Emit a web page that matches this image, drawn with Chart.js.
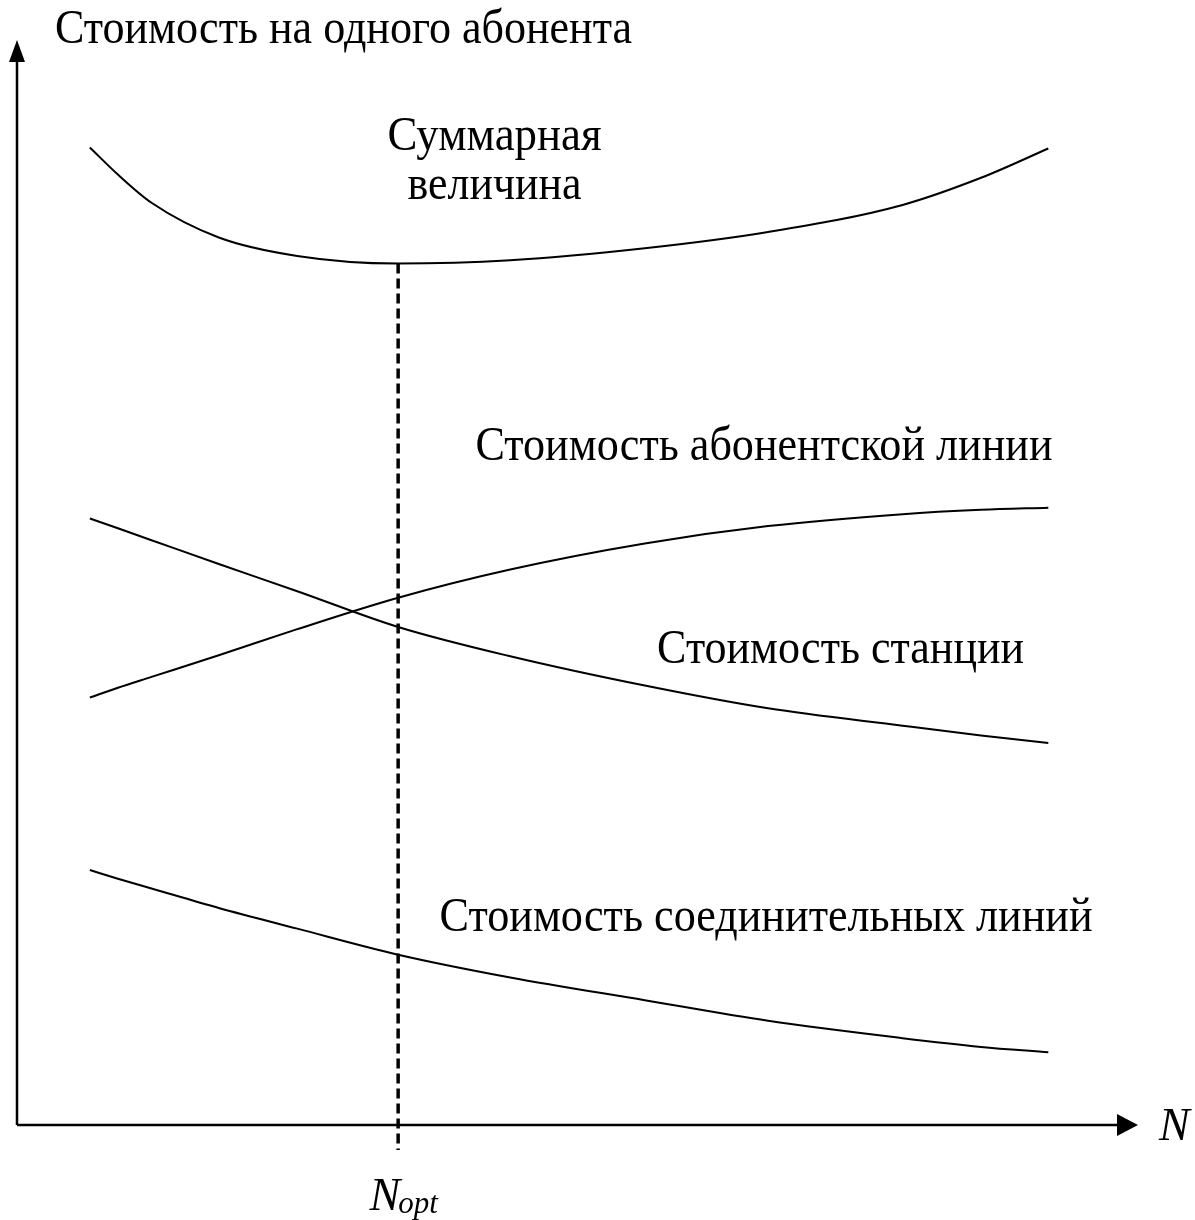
<!DOCTYPE html>
<html>
<head>
<meta charset="utf-8">
<script src="https://cdn.jsdelivr.net/npm/chart.js@4/dist/chart.umd.min.js"></script>
<style>
  body { margin: 0; background: #fff; }
  #wrap { width: 1195px; height: 1220px; position: relative; }
</style>
</head>
<body>
<div id="wrap"><canvas id="costChart"></canvas></div>
<script>
// N (number of subscribers), arbitrary units 0..100
const nValues = [6.5, 9, 12, 18, 25, 34, 44, 56, 67, 79, 86, 92];

// cost per subscriber, arbitrary units 0..100
const totalCost      = [90.1, 87.6, 85.0, 81.8, 80.1, 79.4, 79.7, 80.8, 82.3, 84.8, 87.3, 90.0];
const stationCost    = [55.9, 55.0, 53.9, 51.7, 49.2, 45.9, 43.2, 40.5, 38.4, 36.8, 35.9, 35.2];
const subscriberLine = [39.4, 40.3, 41.3, 43.3, 45.7, 48.6, 51.2, 53.6, 55.2, 56.3, 56.7, 56.9];
const trunkLines     = [23.5, 22.7, 21.8, 20.0, 18.1, 15.7, 13.6, 11.5, 9.6, 8.0, 7.2, 6.7];

// optimum point
const nOpt = 34;
const nOptLine = [79.4, -2.3];

const curveLabels = [
  { lines: ['Суммарная', 'величина'], x: 42.6, y: [89.9, 85.3], w: [214, 174] },
  { lines: ['Стоимость абонентской линии'], x: 40.9, y: [61.3], w: [577], left: true },
  { lines: ['Стоимость станции'], x: 57.1, y: [42.6], w: [367], left: true },
  { lines: ['Стоимость соединительных линий'], x: 37.7, y: [17.9], w: [653], left: true }
];

function toPoints(ys) {
  return ys.map(function (v, i) { return { x: nValues[i], y: v }; });
}

function curve(ys) {
  return {
    data: toPoints(ys),
    borderColor: '#000',
    borderWidth: 2,
    pointRadius: 0,
    cubicInterpolationMode: 'monotone',
    fill: false
  };
}

// draws text squeezed to a given width (the original font looks narrow)
function fitText(c, text, x, y, width, font, align) {
  c.save();
  c.font = font;
  const m = c.measureText(text).width;
  const k = width / m;
  let left = x;
  if (align === 'center') left = x - width / 2;
  c.translate(left, y);
  c.scale(k, 1);
  c.textAlign = 'left';
  c.textBaseline = 'alphabetic';
  c.fillText(text, 0, 0);
  c.restore();
}

const axesPlugin = {
  id: 'axesPlugin',
  afterDraw: function (chart) {
    const c = chart.ctx;
    const xs = chart.scales.x;
    const ys = chart.scales.y;
    const x0 = xs.getPixelForValue(0);
    const y0 = ys.getPixelForValue(0);
    const xEnd = chart.chartArea.right;
    const yEnd = chart.chartArea.top;
    const font = '48px "Liberation Serif"';

    c.save();
    c.strokeStyle = '#000';
    c.fillStyle = '#000';
    c.lineWidth = 2.5;

    // y axis
    c.beginPath();
    c.moveTo(x0, y0);
    c.lineTo(x0, yEnd + 18);
    c.stroke();
    c.beginPath();
    c.moveTo(x0, yEnd);
    c.lineTo(x0 - 8, yEnd + 22);
    c.lineTo(x0 + 8, yEnd + 22);
    c.closePath();
    c.fill();

    // x axis
    c.beginPath();
    c.moveTo(x0, y0);
    c.lineTo(xEnd - 18, y0);
    c.stroke();
    c.beginPath();
    c.moveTo(xEnd, y0);
    c.lineTo(xEnd - 21, y0 - 11);
    c.lineTo(xEnd - 21, y0 + 11);
    c.closePath();
    c.fill();

    // axis titles
    fitText(c, 'Стоимость на одного абонента', 55, 43, 577, font, 'left');
    c.font = 'italic 46px "Liberation Serif"';
    c.textAlign = 'left';
    c.textBaseline = 'alphabetic';
    c.fillText('N', 1159, y0 + 15);

    const nx = xs.getPixelForValue(nOpt);
    c.textAlign = 'right';
    c.fillText('N', nx + 2, 1210);
    c.font = 'italic 31px "Liberation Serif"';
    c.textAlign = 'left';
    c.fillText('opt', nx, 1213);

    // curve labels
    curveLabels.forEach(function (lb) {
      lb.lines.forEach(function (t, i) {
        const px = xs.getPixelForValue(lb.x);
        const py = ys.getPixelForValue(lb.y[i]);
        fitText(c, t, px, py, lb.w[i], font, lb.left ? 'left' : 'center');
      });
    });
    c.restore();
  }
};

const ctx = document.getElementById('costChart');

const costChart = new Chart(ctx, {
  type: 'line',
  data: {
    datasets: [
      curve(totalCost),
      curve(stationCost),
      curve(subscriberLine),
      curve(trunkLines),
      {
        data: [{ x: nOpt, y: nOptLine[0] }, { x: nOpt, y: nOptLine[1] }],
        borderColor: '#000',
        borderWidth: 3.5,
        borderDash: [10, 5],
        pointRadius: 0,
        clip: false
      }
    ]
  },
  options: {
    responsive: true,
    maintainAspectRatio: false,
    animation: false,
    layout: {
      padding: { left: 17, right: 57, top: 40, bottom: 95 }
    },
    scales: {
      x: { type: 'linear', min: 0, max: 100, display: false },
      y: { min: 0, max: 100, display: false }
    },
    plugins: {
      legend: { display: false },
      tooltip: { enabled: false }
    }
  },
  plugins: [axesPlugin]
});
</script>
</body>
</html>
